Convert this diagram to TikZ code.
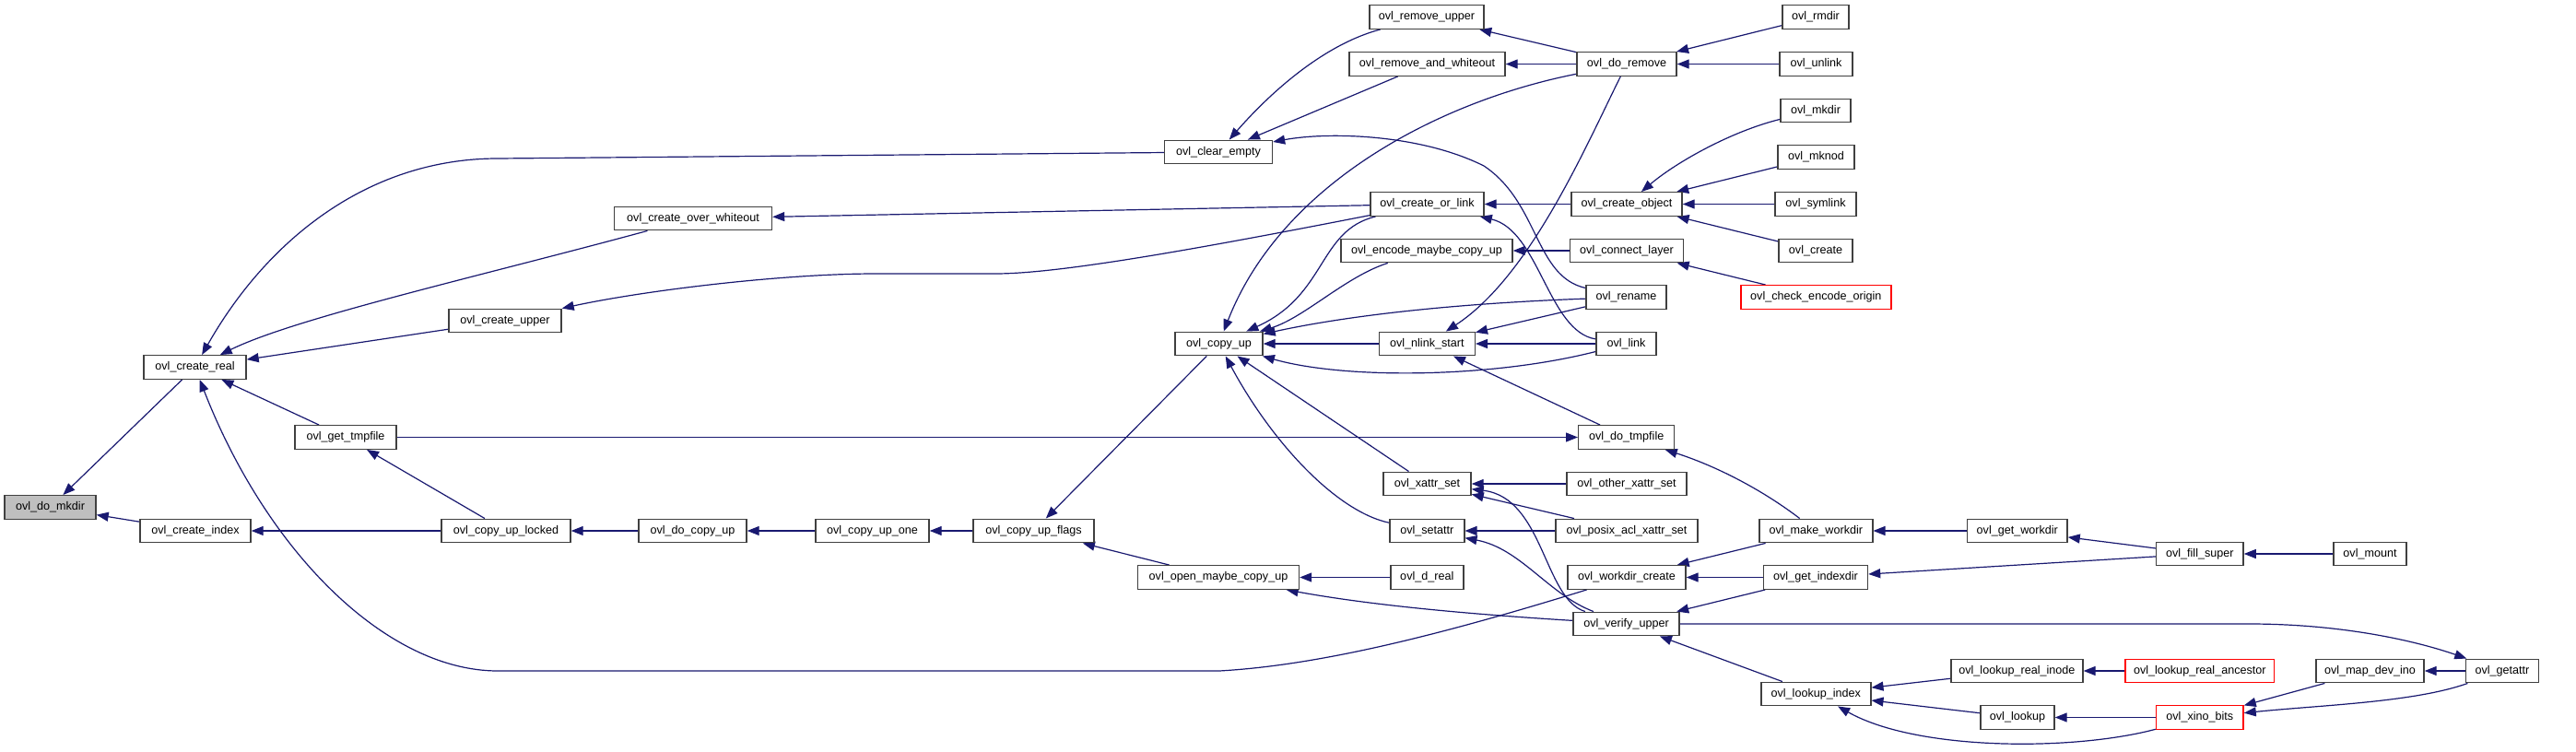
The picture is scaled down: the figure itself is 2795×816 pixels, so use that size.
\documentclass[tikz,border=0pt]{standalone}
\usepackage{fontspec}
\setmainfont{Liberation Sans}
\usetikzlibrary{arrows.meta}
\definecolor{edgec}{HTML}{191970}
\definecolor{boxc}{HTML}{404040}
\definecolor{rootc}{HTML}{BFBFBF}
\pgfdeclarelayer{bg}
\pgfdeclarelayer{edgelayer}
\pgfsetlayers{bg,edgelayer,main}
\begin{document}
\begin{tikzpicture}[x=1pt,y=-1pt,
  fn/.style={draw=boxc, line width=1.4pt, fill=white, rectangle, inner sep=0pt,
    minimum height=25.5pt, font=\fontsize{12.6}{14}\selectfont, text=black},
  rootfn/.style={fn, fill=rootc},
  redfn/.style={fn, draw=red},
  arr/.style={draw=edgec, line width=1.2pt, -{Triangle[length=13pt,width=10pt]}}]
\begin{pgfonlayer}{bg}
\path[fill=white] (0,0) rectangle (2795,816);
\end{pgfonlayer}
\useasboundingbox (0,0) rectangle (2795,816);

% nodes
\node[rootfn, minimum width=99] (domkdir) at (54.5,550.5) {ovl\_do\_mkdir};
\node[fn, minimum width=111] (createreal) at (211.5,398.5) {ovl\_create\_real};
\node[fn, minimum width=120] (createindex) at (212,576) {ovl\_create\_index};
\node[fn, minimum width=122] (createupper) at (548,348) {ovl\_create\_upper};
\node[fn, minimum width=110] (gettmpfile) at (375,474.5) {ovl\_get\_tmpfile};
\node[fn, minimum width=140] (copyuplocked) at (549,576) {ovl\_copy\_up\_locked};
\node[fn, minimum width=171] (createoverwhiteout) at (752,237) {ovl\_create\_over\_whiteout};
\node[fn, minimum width=117] (docopyup) at (751.5,576) {ovl\_do\_copy\_up};
\node[fn, minimum width=123] (copyupone) at (946.5,576) {ovl\_copy\_up\_one};
\node[fn, minimum width=131] (copyupflags) at (1121.5,576) {ovl\_copy\_up\_flags};
\node[fn, minimum width=175] (openmaybe) at (1322,626.5) {ovl\_open\_maybe\_copy\_up};
\node[fn, minimum width=117] (clearempty) at (1322,165) {ovl\_clear\_empty};
\node[fn, minimum width=95] (copyup) at (1322.5,373) {ovl\_copy\_up};
\node[fn, minimum width=124] (removeupper) at (1548,18.5) {ovl\_remove\_upper};
\node[fn, minimum width=169] (removewhiteout) at (1548.5,69.5) {ovl\_remove\_and\_whiteout};
\node[fn, minimum width=123] (createorlink) at (1548.5,221.5) {ovl\_create\_or\_link};
\node[fn, minimum width=186] (encodemaybe) at (1548,272) {ovl\_encode\_maybe\_copy\_up};
\node[fn, minimum width=104] (nlinkstart) at (1548.3,373) {ovl\_nlink\_start};
\node[fn, minimum width=95] (xattrset) at (1548.5,525) {ovl\_xattr\_set};
\node[fn, minimum width=81] (setattr) at (1548.3,576) {ovl\_setattr};
\node[fn, minimum width=79] (dreal) at (1548.3,626.5) {ovl\_d\_real};
\node[fn, minimum width=108] (doremove) at (1765,69.5) {ovl\_do\_remove};
\node[fn, minimum width=120] (createobject) at (1765,221.5) {ovl\_create\_object};
\node[fn, minimum width=123] (connectlayer) at (1765,272) {ovl\_connect\_layer};
\node[fn, minimum width=87] (rename) at (1764.5,322.5) {ovl\_rename};
\node[fn, minimum width=65] (link) at (1764.5,373) {ovl\_link};
\node[fn, minimum width=104] (dotmpfile) at (1764.7,474.5) {ovl\_do\_tmpfile};
\node[fn, minimum width=130] (otherxattr) at (1765,525) {ovl\_other\_xattr\_set};
\node[fn, minimum width=154] (posixacl) at (1765,576) {ovl\_posix\_acl\_xattr\_set};
\node[fn, minimum width=128] (workdircreate) at (1765,626.5) {ovl\_workdir\_create};
\node[fn, minimum width=115] (verifyupper) at (1764.5,677) {ovl\_verify\_upper};
\node[fn, minimum width=72] (rmdir) at (1970,18.5) {ovl\_rmdir};
\node[fn, minimum width=79] (unlink) at (1970.5,69.5) {ovl\_unlink};
\node[fn, minimum width=76] (mkdir) at (1970,120) {ovl\_mkdir};
\node[fn, minimum width=83] (mknod) at (1970.5,170.5) {ovl\_mknod};
\node[fn, minimum width=88] (symlink) at (1970,221.5) {ovl\_symlink};
\node[fn, minimum width=80] (create) at (1970,272) {ovl\_create};
\node[redfn, minimum width=163] (checkencode) at (1970.3,322.5) {ovl\_check\_encode\_origin};
\node[fn, minimum width=123] (makeworkdir) at (1970.3,576) {ovl\_make\_workdir};
\node[fn, minimum width=113] (getindexdir) at (1970,626.5) {ovl\_get\_indexdir};
\node[fn, minimum width=119] (lookupindex) at (1970.3,753) {ovl\_lookup\_index};
\node[fn, minimum width=108.5] (getworkdir) at (2188.8,576) {ovl\_get\_workdir};
\node[fn, minimum width=143] (lookuprealinode) at (2188.4,728) {ovl\_lookup\_real\_inode};
\node[fn, minimum width=80] (lookup) at (2189,778.5) {ovl\_lookup};
\node[fn, minimum width=94.5] (fillsuper) at (2386.8,601) {ovl\_fill\_super};
\node[redfn, minimum width=161.6] (lookuprealancestor) at (2386.8,728) {ovl\_lookup\_real\_ancestor};
\node[redfn, minimum width=94.5] (xinobits) at (2386.8,778.5) {ovl\_xino\_bits};
\node[fn, minimum width=79] (mount) at (2571.5,601) {ovl\_mount};
\node[fn, minimum width=117] (mapdevino) at (2571.5,728) {ovl\_map\_dev\_ino};
\node[fn, minimum width=79] (getattr) at (2715,728) {ovl\_getattr};

\begin{pgfonlayer}{edgelayer}
% straight edges
\draw[arr] (createreal) -- (domkdir);
\draw[arr] (createindex) -- (domkdir);
\draw[arr] (createupper) -- (createreal);
\draw[arr] (gettmpfile) -- (createreal);
\draw[arr] (copyuplocked) -- (createindex);
\draw[arr] (copyuplocked) -- (gettmpfile);
\draw[arr] (gettmpfile) -- (dotmpfile);
\draw[arr] (createorlink) -- (createoverwhiteout);
\draw[arr] (docopyup) -- (copyuplocked);
\draw[arr] (copyupone) -- (docopyup);
\draw[arr] (copyupflags) -- (copyupone);
\draw[arr] (copyup) -- (copyupflags);
\draw[arr] (openmaybe) -- (copyupflags);
\draw[arr] (doremove) -- (removeupper);
\draw[arr] (doremove) -- (removewhiteout);
\draw[arr] (rmdir) -- (doremove);
\draw[arr] (unlink) -- (doremove);
\draw[arr] (removewhiteout) -- (clearempty);
\draw[arr] (createobject) -- (createorlink);
\draw[arr] (connectlayer) -- (encodemaybe);
\draw[arr] (mknod) -- (createobject);
\draw[arr] (symlink) -- (createobject);
\draw[arr] (create) -- (createobject);
\draw[arr] (checkencode) -- (connectlayer);
\draw[arr] (rename) -- (nlinkstart);
\draw[arr] (nlinkstart) -- (copyup);
\draw[arr] (link) -- (nlinkstart);
\draw[arr] (dotmpfile) -- (nlinkstart);
\draw[arr] (xattrset) -- (copyup);
\draw[arr] (otherxattr) -- (xattrset);
\draw[arr] (posixacl) -- (xattrset);
\draw[arr] (posixacl) -- (setattr);
\draw[arr] (dreal) -- (openmaybe);
\draw[arr] (makeworkdir) -- (workdircreate);
\draw[arr] (getindexdir) -- (workdircreate);
\draw[arr] (getindexdir) -- (verifyupper);
\draw[arr] (lookupindex) -- (verifyupper);
\draw[arr] (getworkdir) -- (makeworkdir);
\draw[arr] (fillsuper) -- (getworkdir);
\draw[arr] (fillsuper) -- (getindexdir);
\draw[arr] (mount) -- (fillsuper);
\draw[arr] (lookuprealancestor) -- (lookuprealinode);
\draw[arr] (lookuprealinode) -- (lookupindex);
\draw[arr] (lookup) -- (lookupindex);
\draw[arr] (getattr) -- (mapdevino);
\draw[arr] (mapdevino) -- (xinobits);
\draw[arr] (xinobits) -- (lookup);
% curved edges
\draw[arr] (createoverwhiteout) .. controls (520,300) and (320,345) .. (createreal);
\draw[arr] (clearempty) -- (540,172) .. controls (400,172) and (290,260) .. (createreal);
\draw[arr] (workdircreate) .. controls (1560,690) and (1430,722) .. (1323,728) -- (540,728)
   .. controls (420,728) and (290,600) .. (createreal);
\draw[arr] (createorlink) .. controls (1300,270) and (1150,297) .. (1080,297) -- (950,297)
   .. controls (850,297) and (700,315) .. (createupper);
\draw[arr] (rename) .. controls (1560,330) and (1450,345) .. (copyup);
\draw[arr] (createorlink) .. controls (1430,250) and (1440,320) .. (copyup);
\draw[arr] (encodemaybe) .. controls (1460,300) and (1415,345) .. (copyup);
\draw[arr] (doremove) .. controls (1560,110) and (1390,200) .. (copyup);
\draw[arr] (doremove) .. controls (1720,160) and (1660,300) .. (nlinkstart);
\draw[arr] (removeupper) .. controls (1430,50) and (1370,110) .. (clearempty);
\draw[arr] (rename) .. controls (1665,300) and (1670,220) .. (1610,180)
   .. controls (1540,145) and (1440,143) .. (clearempty);
\draw[arr] (link) .. controls (1680,360) and (1670,250) .. (createorlink);
\draw[arr] (mkdir) .. controls (1880,142) and (1820,175) .. (createobject);
\draw[arr] (link) .. controls (1620,410) and (1460,412) .. (copyup);
\draw[arr] (setattr) .. controls (1450,555) and (1380,480) .. (copyup);
\draw[arr] (verifyupper) .. controls (1675,650) and (1675,540) .. (xattrset);
\draw[arr] (verifyupper) .. controls (1680,645) and (1650,595) .. (setattr);
\draw[arr] (verifyupper) .. controls (1620,668) and (1500,659) .. (openmaybe);
\draw[arr] (makeworkdir) .. controls (1910,530) and (1860,505) .. (dotmpfile);
\draw[arr] (verifyupper) -- (2440,677) .. controls (2540,677) and (2620,695) .. (getattr);
\draw[arr] (getattr) .. controls (2620,762) and (2520,765) .. (xinobits);
\draw[arr] (xinobits) .. controls (2250,815) and (2080,815) .. (lookupindex);
\end{pgfonlayer}
\end{tikzpicture}
\end{document}
